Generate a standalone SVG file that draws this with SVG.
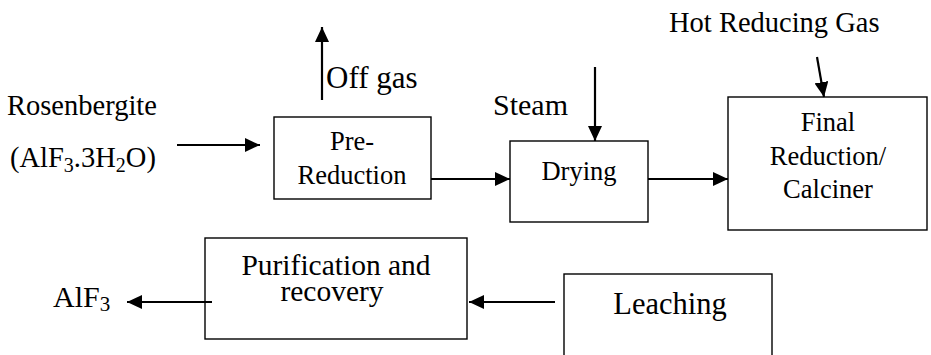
<svg xmlns="http://www.w3.org/2000/svg" width="931" height="355" viewBox="0 0 931 355">
  <style>
    text { font-family: 'Liberation Serif', 'DejaVu Serif', serif; fill: #000; }
    .box { fill: #fff; stroke: #000; stroke-width: 1.4; }
    .flow { fill: none; stroke: #000; stroke-width: 2.2; marker-end: url(#head); }
    .c { text-anchor: middle; }
  </style>
  <defs>
    <marker id="head" viewBox="0 0 15 14" refX="15" refY="7" markerWidth="15" markerHeight="14" markerUnits="userSpaceOnUse" orient="auto">
      <path d="M0,0 L15,7 L0,14 z" fill="#000"/>
    </marker>
  </defs>

  <rect width="931" height="355" fill="#fff"/>

  <!-- free labels -->
  <g id="labels" font-family="'Liberation Serif', 'DejaVu Serif', serif">
    <text x="669" y="32" font-size="28.5">Hot Reducing Gas</text>
    <text x="7" y="115" font-size="28.5">Rosenbergite</text>
    <text x="10" y="167" font-size="28.5">(AlF<tspan font-size="20" dy="5">3</tspan><tspan dy="-5">.3H</tspan><tspan font-size="20" dy="5">2</tspan><tspan dy="-5">O)</tspan></text>
    <text x="326" y="88" font-size="31">Off gas</text>
    <text x="493" y="115" font-size="30">Steam</text>
    <text x="53" y="307" font-size="30">AlF<tspan font-size="21" dy="4">3</tspan></text>
  </g>

  <!-- process units -->
  <g id="pre-reduction">
    <rect class="box" x="274" y="117" width="157" height="82"/>
    <text class="c" x="352" y="150" font-size="26.5">Pre-</text>
    <text class="c" x="352" y="184" font-size="26.5">Reduction</text>
  </g>
  <g id="drying">
    <rect class="box" x="510" y="141" width="138" height="81"/>
    <text class="c" x="579" y="180" font-size="26.5">Drying</text>
  </g>
  <g id="final-reduction">
    <rect class="box" x="728" y="97" width="199" height="133"/>
    <text class="c" x="828" y="131" font-size="26.5">Final</text>
    <text class="c" x="828" y="165" font-size="26.5">Reduction/</text>
    <text class="c" x="828" y="198" font-size="26.5">Calciner</text>
  </g>
  <g id="purification">
    <rect class="box" x="205" y="238" width="262" height="101"/>
    <text class="c" x="336" y="275" font-size="29.5">Purification and</text>
    <text class="c" x="332" y="301" font-size="29.5">recovery</text>
  </g>
  <g id="leaching">
    <rect class="box" x="564" y="274" width="208" height="100"/>
    <text class="c" x="670" y="314" font-size="30.5">Leaching</text>
  </g>

  <!-- connectors -->
  <g id="connectors">
    <line class="flow" x1="177" y1="145" x2="260" y2="145"/>
    <line class="flow" x1="322" y1="100" x2="322" y2="27"/>
    <line class="flow" x1="431" y1="179" x2="510" y2="179"/>
    <line class="flow" x1="595" y1="67" x2="595" y2="141"/>
    <line class="flow" x1="648" y1="179" x2="728" y2="179"/>
    <line class="flow" x1="817" y1="57" x2="824" y2="97"/>
    <line class="flow" x1="555" y1="302" x2="469" y2="302"/>
    <line class="flow" x1="212" y1="302" x2="127" y2="302"/>
  </g>
</svg>
